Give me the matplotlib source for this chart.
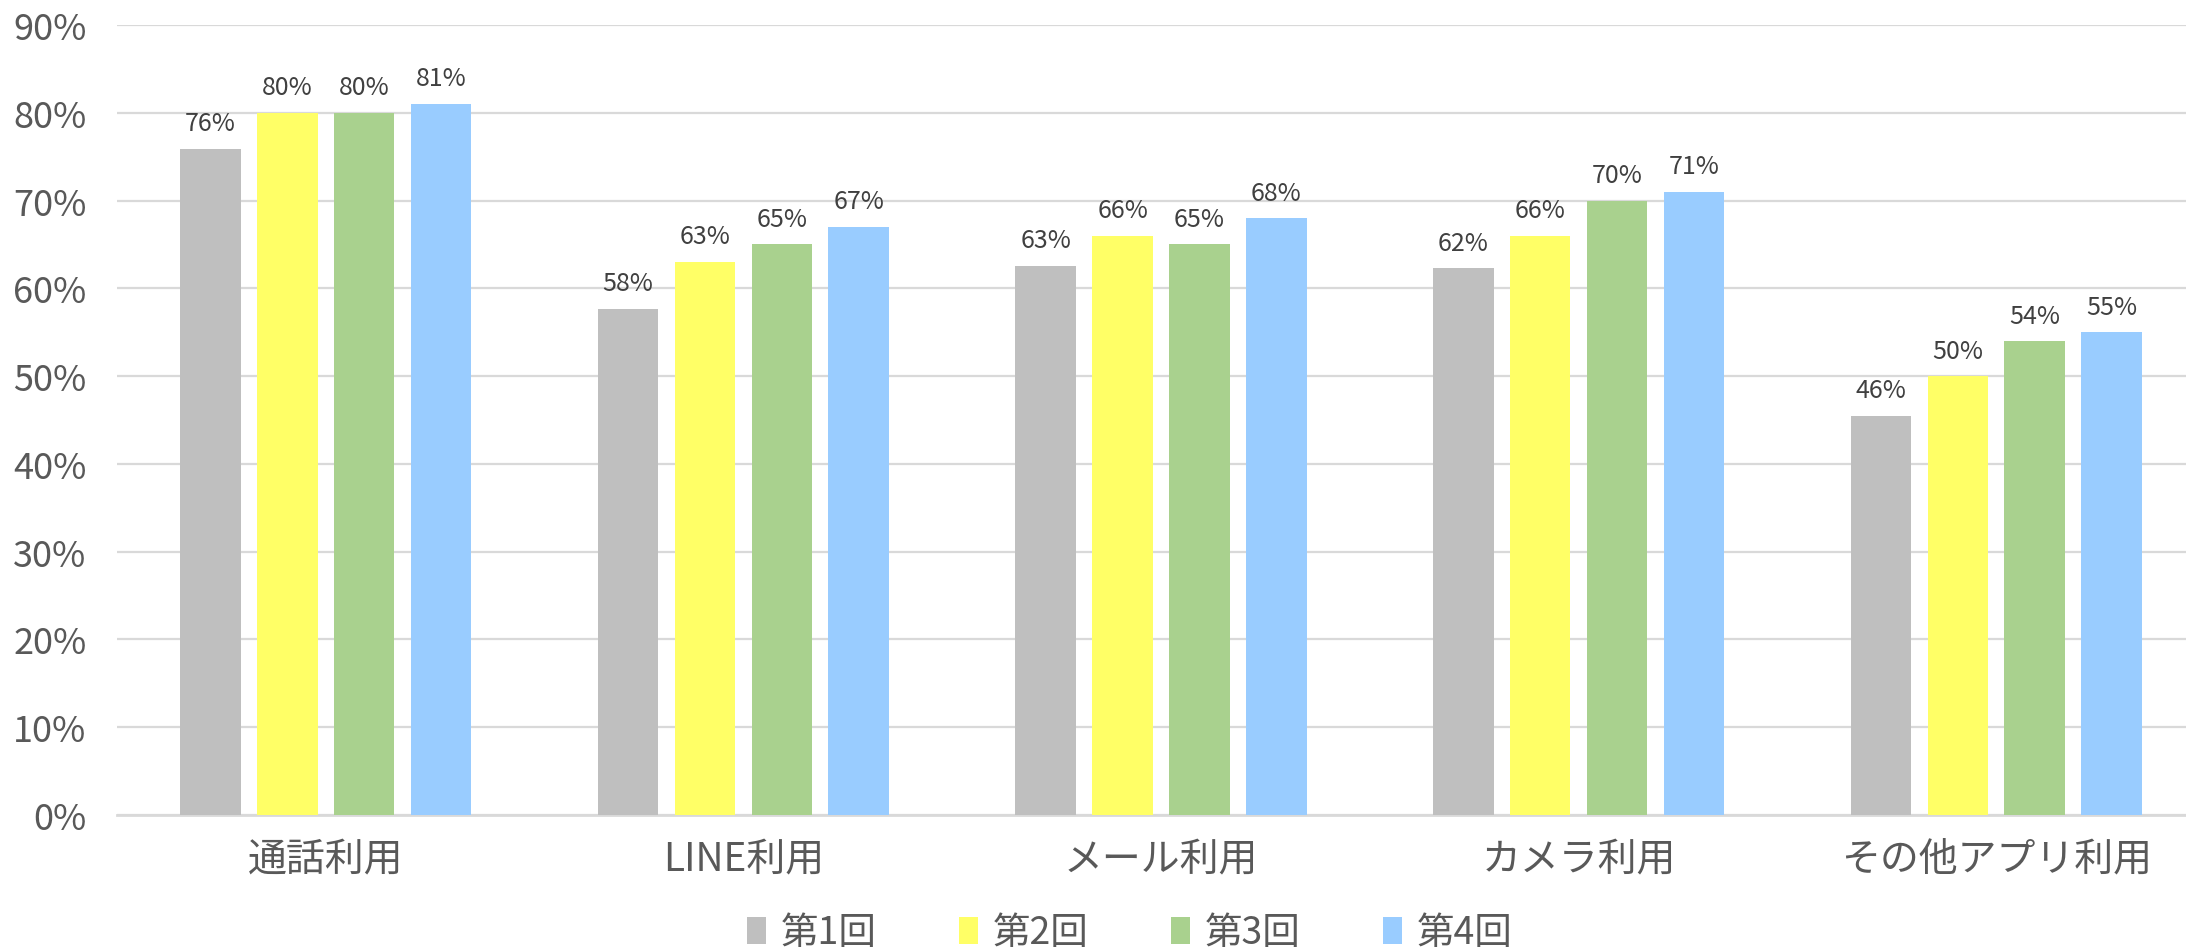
import matplotlib
matplotlib.use('Agg')
import matplotlib.pyplot as plt
import numpy as np

plt.rcParams['font.family'] = ['Noto Sans CJK JP', 'DejaVu Sans']

# ── data ────────────────────────────────────────────────────────────────
categories = ['通話利用', 'LINE利用', 'メール利用', 'カメラ利用', 'その他アプリ利用']
series_names = ['第1回', '第2回', '第3回', '第4回']
round1 = [75.9, 57.7, 62.6, 62.3, 45.5]
round2 = [80.0, 63.0, 66.0, 66.0, 50.0]
round3 = [80.0, 65.0, 65.0, 70.0, 54.0]
round4 = [81.0, 67.0, 68.0, 71.0, 55.0]
colors = ['#BFBFBF', '#FFFF66', '#A9D18E', '#99CCFF']
y_ticks = [0, 10, 20, 30, 40, 50, 60, 70, 80, 90]

fig = plt.figure(figsize=(21.86, 9.53), dpi=100)
# plot area runs a little past the right edge of the figure, as in the original
ax = fig.add_axes([117 / 2186, 1 - 816 / 953, 2088 / 2186, (816 - 26) / 953])

x = np.arange(len(categories))
width = 0.145
pitch = 0.184
for i, (vals, name, col) in enumerate(zip([round1, round2, round3, round4],
                                           series_names, colors)):
    bars = ax.bar(x + (i - 1.5) * pitch, vals, width, color=col, label=name,
                  zorder=3)
    ax.bar_label(bars, labels=[f'{v:.0f}%' for v in vals], padding=9,
                 fontsize=18, color='#404040')

ax.set_xlim(-0.5, len(categories) - 0.5)
ax.set_ylim(0, 90)
ax.set_yticks(y_ticks)
ax.set_yticklabels([f'{t}%' for t in y_ticks], fontsize=26, color='#595959')
ax.set_xticks(x)
ax.set_xticklabels(categories, fontsize=28, color='#595959')
ax.tick_params(axis='y', length=0, pad=22)
ax.tick_params(axis='x', length=0, pad=17)
ax.grid(axis='y', color='#D9D9D9', linewidth=1.6, zorder=0)
for side in ['top', 'right', 'left']:
    ax.spines[side].set_visible(False)
ax.spines['bottom'].set_color('#D9D9D9')
ax.spines['bottom'].set_linewidth(2)

fig.legend(loc='center', bbox_to_anchor=(1130 / 2186, 1 - 934 / 953),
           ncol=4, frameon=False, fontsize=27, handlelength=0.5,
           handleheight=0.7, handletextpad=0.4, columnspacing=2.2,
           labelcolor='#595959')

fig.savefig('out.png', dpi=100)
